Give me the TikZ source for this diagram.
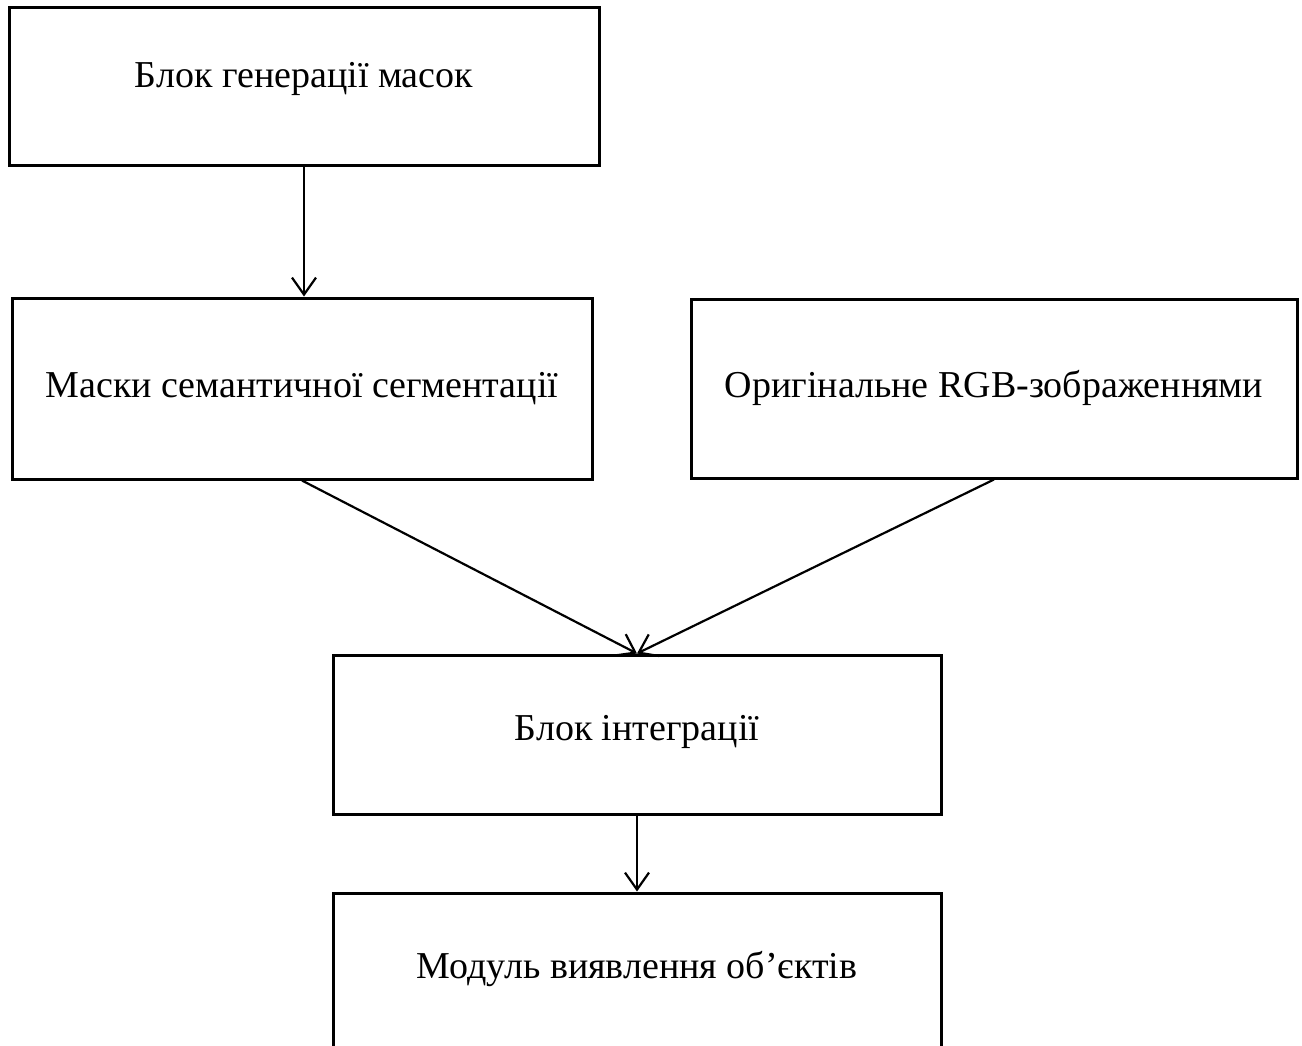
\documentclass[tikz,border=0pt]{standalone}
\usepackage{fontspec}
\setmainfont{Liberation Serif}
\usetikzlibrary{arrows.meta,calc}

\begin{document}
\begin{tikzpicture}[x=1pt,y=-1pt,
  box/.style={draw=black,line width=3pt,inner sep=0pt},
  lbl/.style={font=\fontsize{38}{45}\selectfont,inner sep=0pt,
    text height=0.66em,text depth=0.22em},
  link/.style={draw=black,line width=2.2pt,
    -{Straight Barb[length=17pt,width=24pt,line width=2.2pt]}}]
  \useasboundingbox (0,0) rectangle (1302,1045);
  \clip (0,0) rectangle (1302,1045);

  % boxes
  \node[box,minimum width=590,minimum height=158] (gen) at (304,86) {};
  \node[box,minimum width=580,minimum height=181] (masks) at (302,388.5) {};
  \node[box,minimum width=606,minimum height=179] (rgb) at (994,388.5) {};
  \node[box,minimum width=608,minimum height=159] (integ) at (637,734.5) {};
  \node[box,minimum width=608,minimum height=159] (det) at (637,972.5) {};

  % labels
  \node[lbl] (tgen) at (304,85) {Блок генерації масок};
  \node[lbl] (tmasks) at (302,395) {Маски семантичної сегментації};
  \node[lbl] (trgb) at (994,395) {Оригінальне RGB-зображеннями};
  \node[lbl] (tinteg) at (637,738) {Блок інтеграції};
  \node[lbl] (tdet) at (637,976) {Модуль виявлення об’єктів};

  % connectors
  \draw[link] (gen.south) -- (masks.north -| gen.south);
  \draw[link] (masks.south) -- (integ.north);
  \draw[link] (rgb.south) -- (integ.north);
  \draw[link] (integ.south) -- (det.north);
\end{tikzpicture}
\end{document}
